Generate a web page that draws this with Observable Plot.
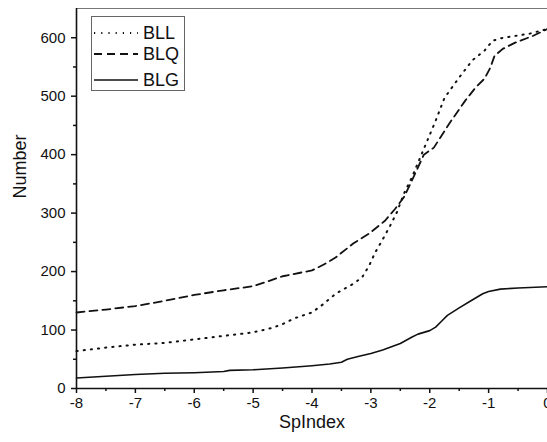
<!DOCTYPE html>
<html>
<head>
<meta charset="utf-8">
<script src="https://cdn.jsdelivr.net/npm/d3@7"></script>
<script src="https://cdn.jsdelivr.net/npm/@observablehq/plot@0.6"></script>
<style>
  html, body { margin: 0; padding: 0; background: #fff; overflow: hidden; }
  #wrap { position: relative; width: 547px; height: 442px; font-family: "Liberation Sans", Arial, sans-serif; }
  #legend { position: absolute; left: 91px; top: 16px; width: 94px; height: 75px; border: 1px solid #666; background: #fff; box-sizing: border-box; }
  .row { position: absolute; left: 0; height: 22px; display: flex; align-items: center; }
  .row svg { margin-left: 2px; }
  .row span { font-size: 18px; margin-left: 5px; color: #111; }
</style>
</head>
<body>
<div id="wrap"></div>
<script>
// Series values
const bllX = [-8, -7.5, -7, -6.5, -6, -5.5, -5, -4.7, -4.5, -4.3, -4, -3.8, -3.6, -3.3, -3.15, -3.03, -2.93, -2.81, -2.67, -2.56, -2.44, -2.3, -2.1, -1.9, -1.75, -1.5, -1.28, -1.07, -0.93, -0.75, -0.3, 0];
const bllY = [64, 70, 75, 78, 84, 90, 96, 103, 110, 120, 130, 145, 162, 179, 190, 210, 232, 253, 279, 301, 333, 362, 410, 458, 497, 532, 561, 578, 595, 600, 607, 615];

const blqX = [-8, -7.5, -7, -6.5, -6, -5.5, -5, -4.7, -4.5, -4.2, -4, -3.8, -3.6, -3.3, -3.03, -2.76, -2.59, -2.44, -2.33, -2.1, -1.93, -1.67, -1.4, -1.22, -1.07, -0.97, -0.9, -0.76, -0.54, -0.25, 0];
const blqY = [130, 135, 141, 150, 160, 168, 175, 185, 192, 198, 202, 212, 224, 248, 265, 287, 307, 327, 350, 400, 412, 453, 492, 515, 530, 549, 569, 581, 592, 603, 615];

const blgX = [-8, -7.5, -7, -6.5, -6, -5.5, -5.4, -5, -4.5, -4, -3.7, -3.5, -3.4, -3.2, -3, -2.8, -2.5, -2.3, -2.2, -2, -1.9, -1.8, -1.7, -1.5, -1.3, -1.1, -1, -0.8, -0.5, 0];
const blgY = [18, 21, 24, 26, 27, 29, 31, 32, 35, 39, 42, 45, 50, 55, 60, 66, 77, 88, 93, 99, 105, 115, 125, 138, 150, 162, 166, 170, 172, 174];

const seriesNames = ["BLL", "BLQ", "BLG"];
const xTicks = [-8, -7, -6, -5, -4, -3, -2, -1, 0];
const xMinor = [-7.5, -6.5, -5.5, -4.5, -3.5, -2.5, -1.5, -0.5];
const yTicks = [0, 100, 200, 300, 400, 500, 600];
const yMinor = [50, 150, 250, 350, 450, 550];
const xLabel = "SpIndex";
const yLabel = "Number";

const toRows = (xs, ys) => xs.map((x, i) => ({x, y: ys[i]}));
const bll = toRows(bllX, bllY);
const blq = toRows(blqX, blqY);
const blg = toRows(blgX, blgY);

const styles = {
  BLL: {strokeDasharray: "1.2,6", strokeWidth: 2},
  BLQ: {strokeDasharray: "8,5", strokeWidth: 1.8},
  BLG: {strokeWidth: 1.6}
};

const chart = Plot.plot({
  width: 547,
  height: 442,
  marginLeft: 76,
  marginRight: 0,
  marginTop: 8,
  marginBottom: 54,
  style: {fontFamily: '"Liberation Sans", Arial, sans-serif', color: "#111", background: "#fff", overflow: "visible"},
  x: {domain: [-8, 0]},
  y: {domain: [0, 650]},
  marks: [
    Plot.ruleY([650], {stroke: "#777", strokeWidth: 1.2}),
    Plot.line(bll, {x: "x", y: "y", stroke: "#111", ...styles.BLL}),
    Plot.line(blq, {x: "x", y: "y", stroke: "#111", ...styles.BLQ}),
    Plot.line(blg, {x: "x", y: "y", stroke: "#111", ...styles.BLG}),
    Plot.axisX({ticks: xTicks, tickSize: 5, tickPadding: 4, fontSize: 15, label: null, strokeWidth: 1.5, tickFormat: d => String(d)}),
    Plot.axisX({ticks: xMinor, tickSize: 3, tickFormat: () => "", label: null, strokeWidth: 1.5}),
    Plot.axisY({ticks: yTicks, tickSize: 5, tickPadding: 6, fontSize: 15, label: null, strokeWidth: 1.5}),
    Plot.axisY({ticks: yMinor, tickSize: 3, tickFormat: () => "", label: null, strokeWidth: 1.5}),
    Plot.ruleY([0], {stroke: "#111", strokeWidth: 1.6}),
    Plot.ruleX([-8], {stroke: "#111", strokeWidth: 1.6}),
    Plot.text([xLabel], {frameAnchor: "bottom", dy: 39, fontSize: 18, fill: "#111"}),
    Plot.text([yLabel], {frameAnchor: "left", dx: -56, rotate: -90, fontSize: 18, fill: "#111"})
  ]
});

const wrap = document.getElementById("wrap");
wrap.appendChild(chart);

// Legend overlay
const legend = document.createElement("div");
legend.id = "legend";
const rowTops = [5, 26, 52];
seriesNames.forEach((name, i) => {
  const row = document.createElement("div");
  row.className = "row";
  row.style.top = rowTops[i] + "px";
  const s = styles[name];
  row.innerHTML = `<svg width="44" height="10"><line x1="0" x2="44" y1="5" y2="5" stroke="#111" stroke-width="${s.strokeWidth}" ${s.strokeDasharray ? `stroke-dasharray="${s.strokeDasharray}"` : ""}/></svg><span>${name}</span>`;
  legend.appendChild(row);
});
wrap.appendChild(legend);
</script>
</body>
</html>
